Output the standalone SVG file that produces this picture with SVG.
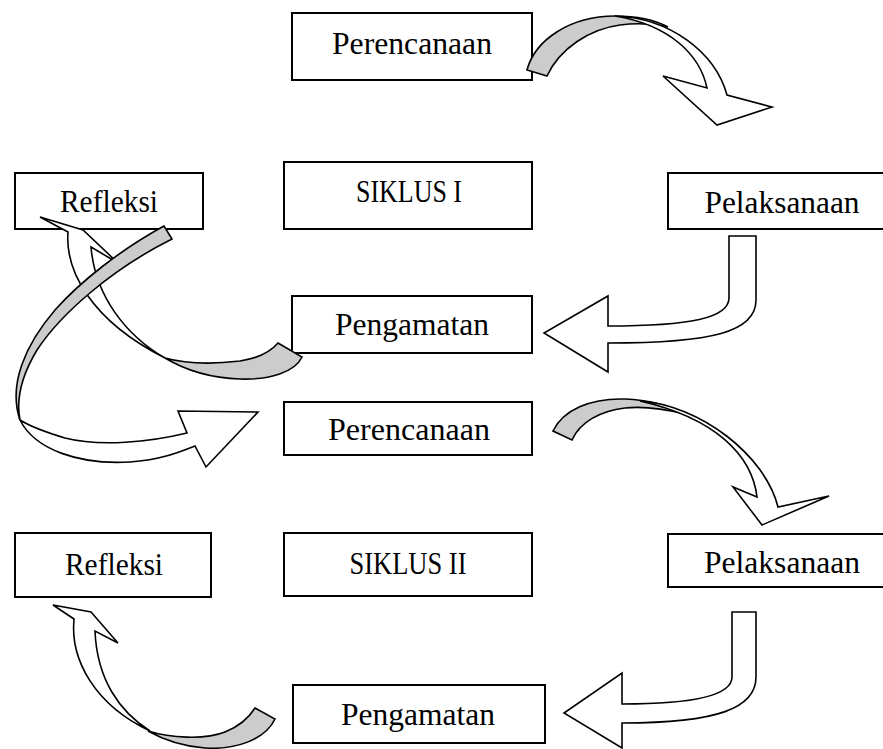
<svg xmlns="http://www.w3.org/2000/svg" width="883" height="749" viewBox="0 0 883 749">
<style>
.box{fill:#fff;stroke:#000;stroke-width:2}
.lbl{font-family:"Liberation Serif","Times New Roman",serif;font-size:31px;fill:#000;text-anchor:middle}
.w{fill:#fff;stroke:#000;stroke-width:1.6;stroke-linejoin:miter}
.g{fill:#cccccc;stroke:#000;stroke-width:1.6;stroke-linejoin:miter}
</style>
<rect width="883" height="749" fill="#fff"/>
<g id="perencanaan1"><rect class="box" x="292" y="13" width="240" height="67"/><text class="lbl" x="412" y="54" textLength="160" lengthAdjust="spacingAndGlyphs">Perencanaan</text></g>
<g id="refleksi1"><rect class="box" x="15" y="173" width="188" height="56"/><text class="lbl" x="109" y="212" textLength="98" lengthAdjust="spacingAndGlyphs">Refleksi</text></g>
<g id="siklus1"><rect class="box" x="284" y="162" width="248" height="67"/><text class="lbl" x="409" y="202" textLength="106" lengthAdjust="spacingAndGlyphs">SIKLUS I</text></g>
<g id="pelaksanaan1"><rect class="box" x="668" y="173" width="229" height="56"/><text class="lbl" x="782" y="213" textLength="155" lengthAdjust="spacingAndGlyphs">Pelaksanaan</text></g>
<g id="pengamatan1"><rect class="box" x="292" y="296" width="240" height="57"/><text class="lbl" x="412" y="335" textLength="154" lengthAdjust="spacingAndGlyphs">Pengamatan</text></g>
<g id="perencanaan2"><rect class="box" x="284" y="402" width="248" height="53"/><text class="lbl" x="409" y="440" textLength="162" lengthAdjust="spacingAndGlyphs">Perencanaan</text></g>
<g id="refleksi2"><rect class="box" x="15" y="533" width="196" height="64"/><text class="lbl" x="114" y="575" textLength="98" lengthAdjust="spacingAndGlyphs">Refleksi</text></g>
<g id="siklus2"><rect class="box" x="284" y="533" width="248" height="63"/><text class="lbl" x="408" y="574" textLength="117" lengthAdjust="spacingAndGlyphs">SIKLUS II</text></g>
<g id="pelaksanaan2"><rect class="box" x="668" y="534" width="229" height="53"/><text class="lbl" x="782" y="573" textLength="156" lengthAdjust="spacingAndGlyphs">Pelaksanaan</text></g>
<g id="pengamatan2"><rect class="box" x="293" y="685" width="252" height="58"/><text class="lbl" x="418" y="725" textLength="154" lengthAdjust="spacingAndGlyphs">Pengamatan</text></g>
<g id="connectors">
<path class="g" d="M527,70 C535,40 570,16 615,16 C640,16 655,20 668,27 C650,23 635,23 620,25 C590,29 560,48 547,76 Z"/>
<path class="w" d="M615,16 C670,18 715,52 727,95 L772,107 L717,125 L663,76 L707,88 C700,55 670,25 615,16 Z"/>
<path class="w" d="M729,236 L756,236 L756,300 C756,332 712,343 608,343 L608,372 L544,333 L608,296 L608,326 C690,326 729,318 729,298 Z"/>
<path class="w" d="M68,232 C65,270 90,320 165,358 C125,335 95,295 91,247 L118,263 L83,230 L40,217 Z"/>
<path class="g" d="M278,343 L302,357 C295,372 270,380 240,379 C210,378 185,370 165,358 C190,365 215,364 240,361 C260,358 272,350 278,343 Z"/>
<path class="g" d="M164,226 C120,250 80,282 55,310 C25,345 8,385 20,420 C16,400 22,375 37,350 C60,315 110,270 172,239 Z"/>
<path class="w" d="M20,420 C35,450 80,465 130,462 C160,460 180,452 195,446 L206,467 L258,412 L178,411 L187,433 C150,442 100,447 65,438 C45,432 28,425 20,420 Z"/>
<path class="g" d="M553,431 C563,410 590,398 625,399 C650,400 670,406 685,414 C665,409 645,406 625,408 C600,411 580,422 572,440 Z"/>
<path class="w" d="M640,401 C700,405 765,455 778,507 L829,496 L762,525 L733,487 L757,497 C752,455 715,418 640,401 Z"/>
<path class="w" d="M732,612 L756,612 L756,677 C756,708 718,723 622,723 L622,748 L564,713 L622,673 L622,704 C700,704 732,694 732,677 Z"/>
<path class="g" d="M255,708 L275,719 C265,740 235,750 205,748 C180,746 162,739 148,731 C170,738 205,740 225,732 C240,726 250,716 255,708 Z"/>
<path class="w" d="M74,619 C70,660 95,705 150,731 C120,712 97,680 95,631 L118,643 L91,612 L53,605 Z"/>
</g>
</svg>
